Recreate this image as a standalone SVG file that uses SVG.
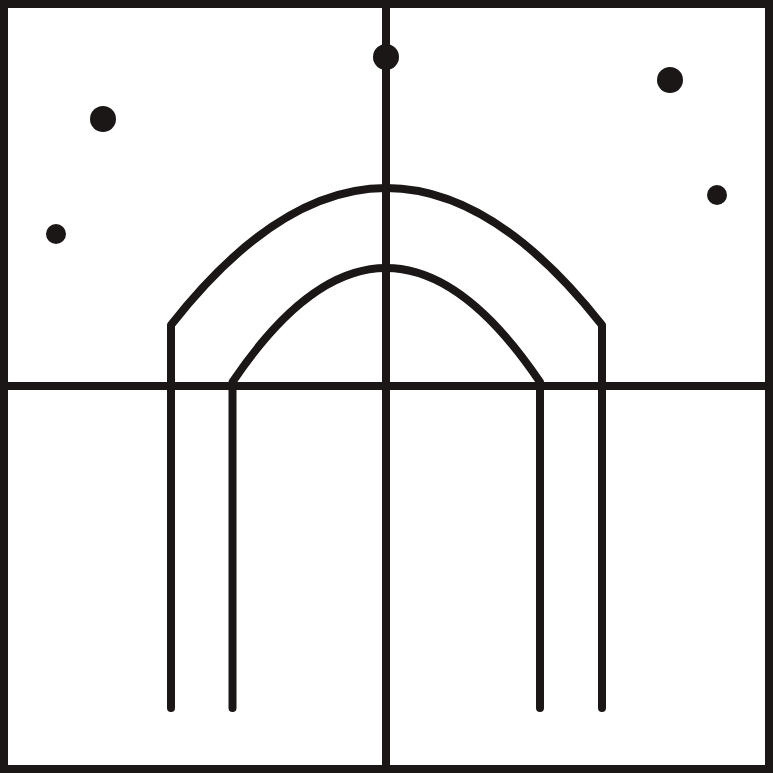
<svg xmlns="http://www.w3.org/2000/svg" width="773" height="773" viewBox="0 0 773 773">
<style>
.ln{fill:none;stroke:#1a1716;stroke-width:8;stroke-linecap:round;stroke-linejoin:round}
.fr{fill:none;stroke:#1a1716;stroke-width:8}
.dot{fill:#1a1716}
</style>
<rect x="0" y="0" width="773" height="773" fill="#ffffff"/>
<rect class="fr" x="4" y="4" width="765" height="765"/>
<line class="fr" x1="386" y1="4" x2="386" y2="769"/>
<line class="fr" x1="4" y1="386" x2="769" y2="386"/>
<path class="ln" d="M171,708 V325 Q386,51 602,325 V708"/>
<path class="ln" d="M232.5,708 V382 Q386,154 540,382 V708"/>
<circle class="dot" cx="386" cy="57" r="13"/>
<circle class="dot" cx="103" cy="119" r="13"/>
<circle class="dot" cx="56" cy="234" r="10"/>
<circle class="dot" cx="670" cy="80" r="13"/>
<circle class="dot" cx="717" cy="195" r="10"/>
</svg>
